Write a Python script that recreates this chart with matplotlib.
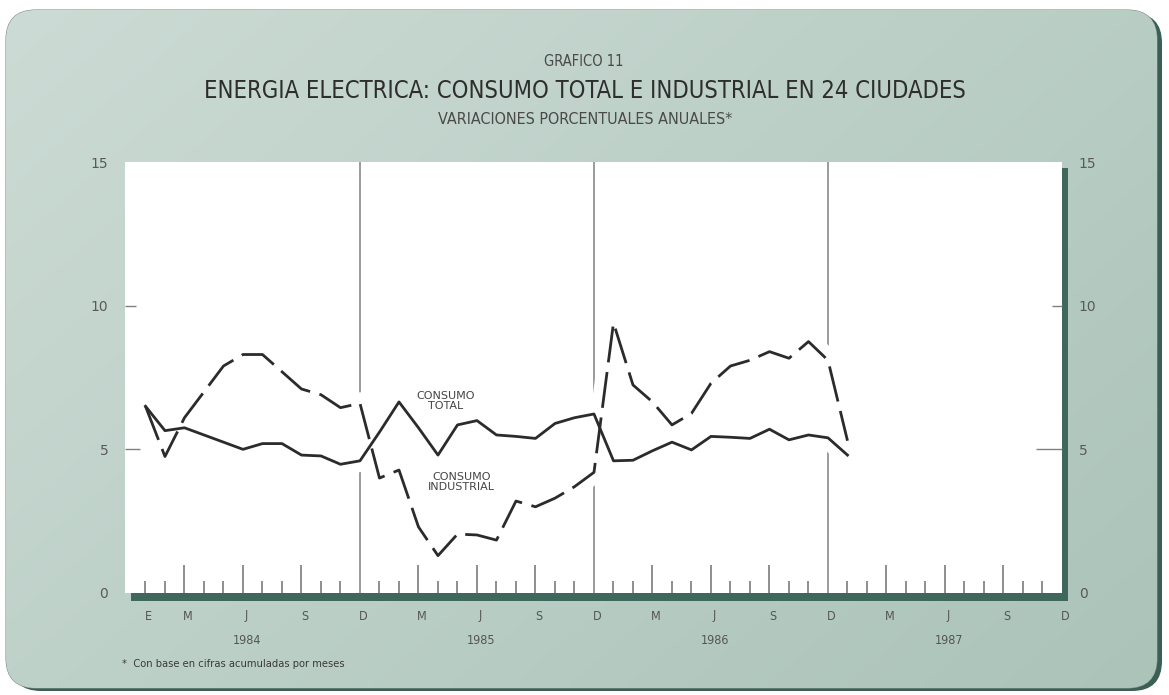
import numpy as np
import matplotlib
matplotlib.use("Agg")
import matplotlib.pyplot as plt
from matplotlib.patches import FancyBboxPatch, Rectangle
from matplotlib import transforms

# ---------------- data ----------------
# month index: 0 = Jan 1984 ... 47 = Dec 1987
months = list(range(37))  # Jan 1984 .. Jan 1987
consumo_total = [6.5, 5.65, 5.75, 5.5, 5.25, 5.0, 5.2, 5.2, 4.8, 4.77, 4.48, 4.6,
                 5.6, 6.65, 5.75, 4.8, 5.85, 6.0, 5.5, 5.45, 5.38, 5.9, 6.1, 6.23,
                 4.6, 4.62, 4.95, 5.25, 4.98, 5.45, 5.42, 5.38, 5.7, 5.33, 5.5, 5.4,
                 4.8]
consumo_industrial = [6.5, 4.75, 6.1, 7.0, 7.9, 8.3, 8.3, 7.7, 7.1, 6.9, 6.45, 6.6,
                      4.0, 4.28, 2.3, 1.3, 2.05, 2.02, 1.84, 3.2, 3.0, 3.3, 3.7, 4.2,
                      9.4, 7.24, 6.65, 5.85, 6.25, 7.3, 7.9, 8.1, 8.4, 8.17, 8.75, 8.1,
                      5.3]
years = ["1984", "1985", "1986", "1987"]
month_labels = ["E", "M", "J", "S", "D"]
month_label_idx = [0, 2, 5, 8, 11]     # Ene, Mar, Jun, Sep, Dic
major_month_idx = [2, 5, 8]           # taller ticks
year_end_idx = [11, 23, 35]           # vertical dividers
y_ticks = [0, 5, 10, 15]

W, H = 1169, 695
fig = plt.figure(figsize=(W / 100, H / 100), dpi=100)
fig.patch.set_facecolor("white")

# ---------------- background card ----------------
bg = fig.add_axes([0, 0, 1, 1])
bg.set_xlim(0, W)
bg.set_ylim(H, 0)
bg.axis("off")

shadow = FancyBboxPatch((11, 13), 1151, 678, boxstyle="round,pad=0,rounding_size=30",
                        facecolor="#3b5f55", edgecolor="none", zorder=0)
bg.add_patch(shadow)
card = FancyBboxPatch((6, 10), 1151, 678, boxstyle="round,pad=0,rounding_size=30",
                      facecolor="#bccfc6", edgecolor="#7f8f88", linewidth=0.8, zorder=1)
bg.add_patch(card)
gx, gy = np.meshgrid(np.linspace(0, 1, 200), np.linspace(0, 1, 120))
t = np.clip(0.6 * gx + 0.4 * gy, 0, 1)
c1 = np.array([0.80, 0.86, 0.835])
c2 = np.array([0.67, 0.765, 0.725])
img = c1[None, None, :] * (1 - t[..., None]) + c2[None, None, :] * t[..., None]
im = bg.imshow(img, extent=(6, 1157, 688, 10), aspect="auto", zorder=1.5,
               interpolation="bilinear")
im.set_clip_path(card)

# plot-area shadow
bg.add_patch(Rectangle((131, 168), 937, 433, facecolor="#3f675b", edgecolor="none", zorder=2))

# ---------------- titles ----------------
cond = dict(family="DejaVu Sans", stretch="condensed")
fig.text(584 / W, 1 - 62 / H, "GRAFICO 11", ha="center", va="center",
         fontsize=10.5, color="#4a4a4a", **cond)
fig.text(585 / W, 1 - 91 / H, "ENERGIA ELECTRICA: CONSUMO TOTAL E INDUSTRIAL EN 24 CIUDADES",
         ha="center", va="center", fontsize=17, color="#2e2e2e", **cond)
fig.text(585 / W, 1 - 120 / H, "VARIACIONES PORCENTUALES ANUALES*", ha="center", va="center",
         fontsize=11.5, color="#4a4a4a", **cond)
fig.text(122 / W, 1 - 664 / H, "*  Con base en cifras acumuladas por meses", ha="left",
         va="center", fontsize=8, color="#3a3a3a", **cond)

# ---------------- main axes ----------------
left, right, top, bottom = 125, 1062, 162, 593
ax = fig.add_axes([left / W, (H - bottom) / H, (right - left) / W, (bottom - top) / H])
ax.set_facecolor("white")
ax.set_xlim(-1.05, 47)
ax.set_ylim(0, 15)
for s in ax.spines.values():
    s.set_visible(False)

# x ticks: monthly, inward
all_months = list(range(48))
minor = [m for m in all_months if (m % 12) not in major_month_idx and (m % 12) != 11]
major = [m for m in all_months if (m % 12) in major_month_idx]
ax.set_xticks(major)
ax.set_xticks(minor, minor=True)
ax.tick_params(axis="x", which="major", direction="in", length=20, width=1.1,
               color="#707070", labelbottom=False)
ax.tick_params(axis="x", which="minor", direction="in", length=8.5, width=1.1,
               color="#707070", labelbottom=False)

# y ticks both sides
ax.set_yticks(y_ticks)
ax.set_yticklabels([str(v) for v in y_ticks])
ax.tick_params(axis="y", which="major", direction="in", length=9, width=1.0,
               color="#808080", labelsize=10, labelcolor="#5a5a5a",
               left=True, right=True, labelleft=True, labelright=True, pad=12)
for tl in ax.yaxis.get_ticklabels():
    tl.set_family("DejaVu Sans")
for v, tk in zip(y_ticks, ax.yaxis.get_major_ticks()):
    if v in (0, 15):
        tk.tick1line.set_visible(False)
        tk.tick2line.set_visible(False)
    elif v == 5:
        tk.tick1line.set_markersize(11)
        tk.tick2line.set_markersize(19)
    else:
        tk.tick1line.set_markersize(8)
        tk.tick2line.set_markersize(7)

# year dividers
for m in year_end_idx:
    ax.axvline(m, color="#8a8a8a", linewidth=1.2, zorder=1)

# white masks around the data (breaks in dividers)
ax.fill_between(months, consumo_total, consumo_industrial, color="white", zorder=2,
                linewidth=0)
ax.plot(months, consumo_total, color="white", linewidth=16, zorder=2,
        solid_capstyle="round")
ax.plot(months, consumo_industrial, color="white", linewidth=16, zorder=2,
        solid_capstyle="round")

# data lines
ax.plot(months, consumo_total, color="#2b2b2b", linewidth=2.0, zorder=3,
        solid_joinstyle="round")
ax.plot(months, consumo_industrial, color="#2b2b2b", linewidth=2.0, zorder=3,
        dashes=(13, 3.5), dash_joinstyle="round")

# line labels
ax.text(15.4, 6.68, "CONSUMO\nTOTAL", ha="center", va="center", fontsize=8,
        color="#444444", linespacing=1.0, zorder=4, family="DejaVu Sans")
ax.text(16.2, 3.86, "CONSUMO\nINDUSTRIAL", ha="center", va="center", fontsize=8,
        color="#444444", linespacing=1.0, zorder=4, family="DejaVu Sans")

# month / year labels below the axis (the "E" only appears for the first year)
trans = transforms.blended_transform_factory(ax.transData, fig.transFigure)
for yi, yr in enumerate(years):
    for lab, mi in zip(month_labels, month_label_idx):
        if lab == "E" and yi > 0:
            continue
        ax.text(yi * 12 + mi + 0.15, 1 - 616 / H, lab, transform=trans, ha="center",
                va="center", fontsize=9, color="#555555", clip_on=False, **cond)
    ax.text(yi * 12 + 5 + 0.2, 1 - 641 / H, yr, transform=trans, ha="center",
            va="center", fontsize=9, color="#555555", clip_on=False, **cond)

fig.savefig("out.png", dpi=100)
